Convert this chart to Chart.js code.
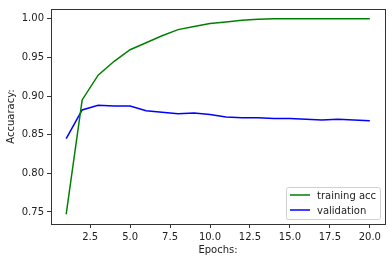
<!DOCTYPE html>
<html>
<head>
<meta charset="utf-8">
<script src="https://cdn.jsdelivr.net/npm/chart.js@4"></script>
<style>
    html, body { margin: 0; padding: 0; background: #fff; }
    #wrap { width: 392px; height: 262px; }
</style>
</head>
<body>
<div id="wrap"><canvas id="accChart" width="392" height="262"></canvas></div>
<script>
// --- Data ---
const epochs = [1, 2, 3, 4, 5, 6, 7, 8, 9, 10, 11, 12, 13, 14, 15, 16, 17, 18, 19, 20];
const trainAcc = [0.747, 0.895, 0.927, 0.945, 0.960, 0.969, 0.978, 0.986, 0.990, 0.994, 0.996, 0.998, 0.9995, 1.0, 1.0, 1.0, 1.0, 1.0, 1.0, 1.0];
const valAcc = [0.845, 0.882, 0.888, 0.887, 0.887, 0.881, 0.879, 0.877, 0.878, 0.876, 0.873, 0.872, 0.872, 0.871, 0.871, 0.870, 0.869, 0.870, 0.869, 0.868];
const xTicks = [2.5, 5.0, 7.5, 10.0, 12.5, 15.0, 17.5, 20.0];
const yTicks = [0.75, 0.80, 0.85, 0.90, 0.95, 1.00];

const FONT = 'DejaVu Sans';
const INK = '#222';

// --- Plugins: full frame + legend box in lower right ---
const framePlugin = {
    id: 'frame',
    afterDraw(chart) {
        const { ctx, chartArea: a } = chart;
        ctx.save();
        ctx.strokeStyle = '#333';
        ctx.lineWidth = 1;
        // snap to pixel centres so the frame stays crisp
        ctx.strokeRect(Math.round(a.left) + 0.5, Math.round(a.top) + 0.5,
            Math.round(a.right - a.left), Math.round(a.bottom - a.top));
        ctx.restore();
    }
};

const boxLegend = {
    id: 'boxLegend',
    afterDraw(chart) {
        const { ctx, chartArea: a } = chart;
        const sets = chart.data.datasets;
        const w = 94, h = 32;
        const x0 = a.right - 5 - w, y0 = a.bottom - 5 - h;
        ctx.save();
        ctx.fillStyle = 'rgba(255,255,255,0.8)';
        ctx.strokeStyle = '#d0d0d0';
        ctx.lineWidth = 1;
        ctx.beginPath();
        ctx.roundRect(x0 + 0.5, y0 + 0.5, w, h, 2);
        ctx.fill();
        ctx.stroke();
        ctx.font = '10px "' + FONT + '"';
        ctx.textBaseline = 'middle';
        sets.forEach((ds, i) => {
            const y = y0 + 8 + i * 15;
            ctx.strokeStyle = ds.borderColor;
            ctx.lineWidth = 1.5;
            ctx.beginPath();
            ctx.moveTo(x0 + 4, y);
            ctx.lineTo(x0 + 24, y);
            ctx.stroke();
            ctx.fillStyle = INK;
            ctx.fillText(ds.label, x0 + 31, y + 1);
        });
        ctx.restore();
    }
};

const toPoints = (ys) => epochs.map((e, i) => ({ x: e, y: ys[i] }));

new Chart(document.getElementById('accChart'), {
    type: 'line',
    data: {
        datasets: [
            {
                label: 'training acc',
                data: toPoints(trainAcc),
                borderColor: '#008000',
                borderWidth: 1.5,
                pointRadius: 0,
                tension: 0,
                fill: false
            },
            {
                label: 'validation',
                data: toPoints(valAcc),
                borderColor: '#0000ff',
                borderWidth: 1.5,
                pointRadius: 0,
                tension: 0,
                fill: false
            }
        ]
    },
    options: {
        responsive: false,
        animation: false,
        layout: { padding: { left: 0, right: 7, top: 6, bottom: 0 } },
        plugins: {
            legend: { display: false },
            tooltip: { enabled: false }
        },
        scales: {
            x: {
                type: 'linear',
                min: 0.05,
                max: 20.95,
                afterBuildTicks: (s) => { s.ticks = xTicks.map(v => ({ value: v })); },
                afterFit: (s) => { s.height = 38; },
                border: { display: false },
                grid: { drawOnChartArea: false, drawTicks: true, tickLength: 4, color: '#000', lineWidth: 0.8 },
                ticks: {
                    color: INK,
                    font: { family: FONT, size: 10 },
                    padding: 3,
                    maxRotation: 0,
                    callback: (v) => Number(v).toFixed(1)
                },
                title: {
                    display: true,
                    text: 'Epochs:',
                    color: INK,
                    font: { family: FONT, size: 10 },
                    padding: { top: 0, bottom: 6 }
                }
            },
            y: {
                min: 0.7344,
                max: 1.0127,
                afterBuildTicks: (s) => { s.ticks = yTicks.map(v => ({ value: v })); },
                afterFit: (s) => { s.width = 51; },
                border: { display: false },
                grid: { drawOnChartArea: false, drawTicks: true, tickLength: 4, color: '#000', lineWidth: 0.8 },
                ticks: {
                    color: INK,
                    font: { family: FONT, size: 10 },
                    padding: 3,
                    callback: (v) => Number(v).toFixed(2)
                },
                title: {
                    display: true,
                    text: 'Accuaracy:',
                    color: INK,
                    font: { family: FONT, size: 10 },
                    padding: { top: 5, bottom: 0 }
                }
            }
        }
    },
    plugins: [framePlugin, boxLegend]
});
</script>
</body>
</html>
